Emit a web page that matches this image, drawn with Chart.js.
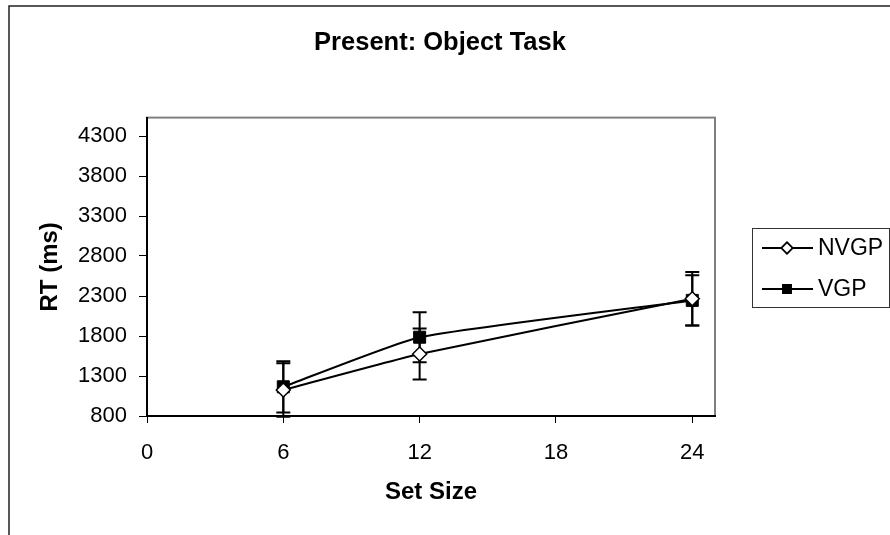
<!DOCTYPE html>
<html>
<head>
<meta charset="utf-8">
<title>Present: Object Task</title>
<script src="https://cdn.jsdelivr.net/npm/chart.js@4.4.1/dist/chart.umd.min.js"></script>
<style>
  body { margin: 0; background: #fff; }
</style>
</head>
<body>
<canvas id="rt-chart" width="890" height="535"></canvas>
<script>
// data
const setSizes = [6, 12, 24];
const nvgpRT = [1125, 1575, 2265];
const vgpRT = [1165, 1785, 2245];
const nvgpErr = [335, 320, 335];
const vgpErr = [320, 312, 315];
const xTicks = [0, 6, 12, 18, 24];
const yTicks = [800, 1300, 1800, 2300, 2800, 3300, 3800, 4300];

const FONT = "'Liberation Sans', Arial, sans-serif";

function toPoints(values) {
  return setSizes.map((s, i) => ({ x: s, y: values[i] }));
}

// outer frame + grey plot area border (axes drawn over it)
const frame = {
  id: "frame",
  beforeDraw(chart) {
    const { ctx, chartArea: a } = chart;
    ctx.save();
    ctx.fillStyle = "#fff";
    ctx.fillRect(0, 0, chart.width, chart.height);
    ctx.strokeStyle = "#222";
    ctx.lineWidth = 1.5;
    ctx.beginPath();
    ctx.moveTo(9, chart.height);
    ctx.lineTo(9, 6);
    ctx.lineTo(chart.width, 6);
    ctx.stroke();
    ctx.strokeStyle = "#808080";
    ctx.lineWidth = 2;
    ctx.strokeRect(a.left, a.top, a.right - a.left, a.bottom - a.top);
    ctx.restore();
  }
};

// vertical error bars with caps
const errorBars = {
  id: "errorBars",
  beforeDatasetsDraw(chart) {
    const { ctx, scales: { x, y } } = chart;
    ctx.save();
    ctx.strokeStyle = "#000";
    ctx.lineWidth = 2;
    chart.data.datasets.forEach(ds => {
      ds.data.forEach((pt, i) => {
        const err = ds.errors[i];
        const px = x.getPixelForValue(pt.x);
        const top = y.getPixelForValue(pt.y + err);
        const bot = y.getPixelForValue(pt.y - err);
        ctx.beginPath();
        ctx.moveTo(px, top);
        ctx.lineTo(px, bot);
        ctx.moveTo(px - 7, top);
        ctx.lineTo(px + 7, top);
        ctx.moveTo(px - 7, bot);
        ctx.lineTo(px + 7, bot);
        ctx.stroke();
      });
    });
    ctx.restore();
  }
};

// Excel style boxed legend on the right
const boxLegend = {
  id: "boxLegend",
  afterDraw(chart) {
    const { ctx } = chart;
    const box = { left: 752, top: 228, right: 889, bottom: 307 };
    ctx.save();
    ctx.strokeStyle = "#333";
    ctx.lineWidth = 1;
    ctx.strokeRect(box.left + 0.5, box.top + 0.5, box.right - box.left, box.bottom - box.top);
    const rows = [248, 289];
    chart.data.datasets.forEach((ds, i) => {
      const yy = rows[i];
      ctx.strokeStyle = "#000";
      ctx.lineWidth = 2;
      ctx.beginPath();
      ctx.moveTo(762, yy);
      ctx.lineTo(813, yy);
      ctx.stroke();
      Chart.helpers.drawPoint(ctx, {
        pointStyle: ds.pointStyle,
        radius: ds.legendRadius,
        borderWidth: 1.5
      }, 787, yy);
      ctx.fillStyle = ds.pointBackgroundColor;
      ctx.strokeStyle = "#000";
      ctx.lineWidth = 1.5;
      ctx.fill();
      ctx.stroke();
      ctx.fillStyle = "#000";
      ctx.font = "23px " + FONT;
      ctx.textAlign = "left";
      ctx.textBaseline = "middle";
      ctx.fillText(ds.label, 818, yy + 1);
    });
    ctx.restore();
  }
};

new Chart(document.getElementById("rt-chart"), {
  type: "line",
  data: {
    datasets: [
      {
        label: "NVGP",
        data: toPoints(nvgpRT),
        errors: nvgpErr,
        borderColor: "#000",
        borderWidth: 2,
        pointStyle: "rectRot",
        pointRadius: 7,
        legendRadius: 5.5,
        pointBackgroundColor: "#fff",
        pointBorderColor: "#000",
        pointBorderWidth: 1.5,
        tension: 0.15
      },
      {
        label: "VGP",
        data: toPoints(vgpRT),
        errors: vgpErr,
        borderColor: "#000",
        borderWidth: 2,
        pointStyle: "rect",
        pointRadius: 8.5,
        legendRadius: 5.5,
        pointBackgroundColor: "#000",
        pointBorderColor: "#000",
        pointBorderWidth: 1,
        tension: 0.15
      }
    ]
  },
  options: {
    responsive: false,
    animation: false,
    layout: { padding: { left: 0, right: 10, top: 0, bottom: 0 } },
    scales: {
      x: {
        type: "linear",
        min: 0,
        max: 25,
        afterBuildTicks: s => { s.ticks = xTicks.map(v => ({ value: v })); },
        afterFit: s => { s.height = 119; },
        grid: { drawOnChartArea: false, tickLength: 7, tickColor: "#000" },
        border: { color: "#000", width: 2 },
        ticks: { color: "#000", padding: 17, font: { family: FONT, size: 22 }, callback: v => String(v) },
        title: {
          display: true,
          text: "Set Size",
          color: "#000",
          font: { family: FONT, size: 24, weight: "bold" },
          padding: { top: 0, bottom: 28 }
        }
      },
      y: {
        type: "linear",
        min: 800,
        max: 4530,
        afterBuildTicks: s => { s.ticks = yTicks.map(v => ({ value: v })); },
        afterFit: s => { s.width = 147; },
        grid: { drawOnChartArea: false, tickLength: 8, tickColor: "#000" },
        border: { color: "#000", width: 2 },
        ticks: { color: "#000", padding: 12, font: { family: FONT, size: 22 }, callback: v => String(v) },
        title: {
          display: true,
          text: "RT (ms)",
          color: "#000",
          font: { family: FONT, size: 24, weight: "bold" },
          padding: { top: 36, bottom: 0 }
        }
      },
      // empty right-hand axis that only reserves room for the legend
      legendSpace: {
        type: "linear",
        position: "right",
        afterFit: s => { s.width = 165; },
        grid: { display: false },
        ticks: { display: false },
        border: { display: false }
      }
    },
    plugins: {
      legend: { display: false },
      tooltip: { enabled: false },
      title: {
        display: true,
        text: "Present: Object Task",
        color: "#000",
        font: { family: FONT, size: 25.5, weight: "bold" },
        padding: { top: 28, bottom: 59 }
      }
    }
  },
  plugins: [frame, errorBars, boxLegend]
});
</script>
</body>
</html>
